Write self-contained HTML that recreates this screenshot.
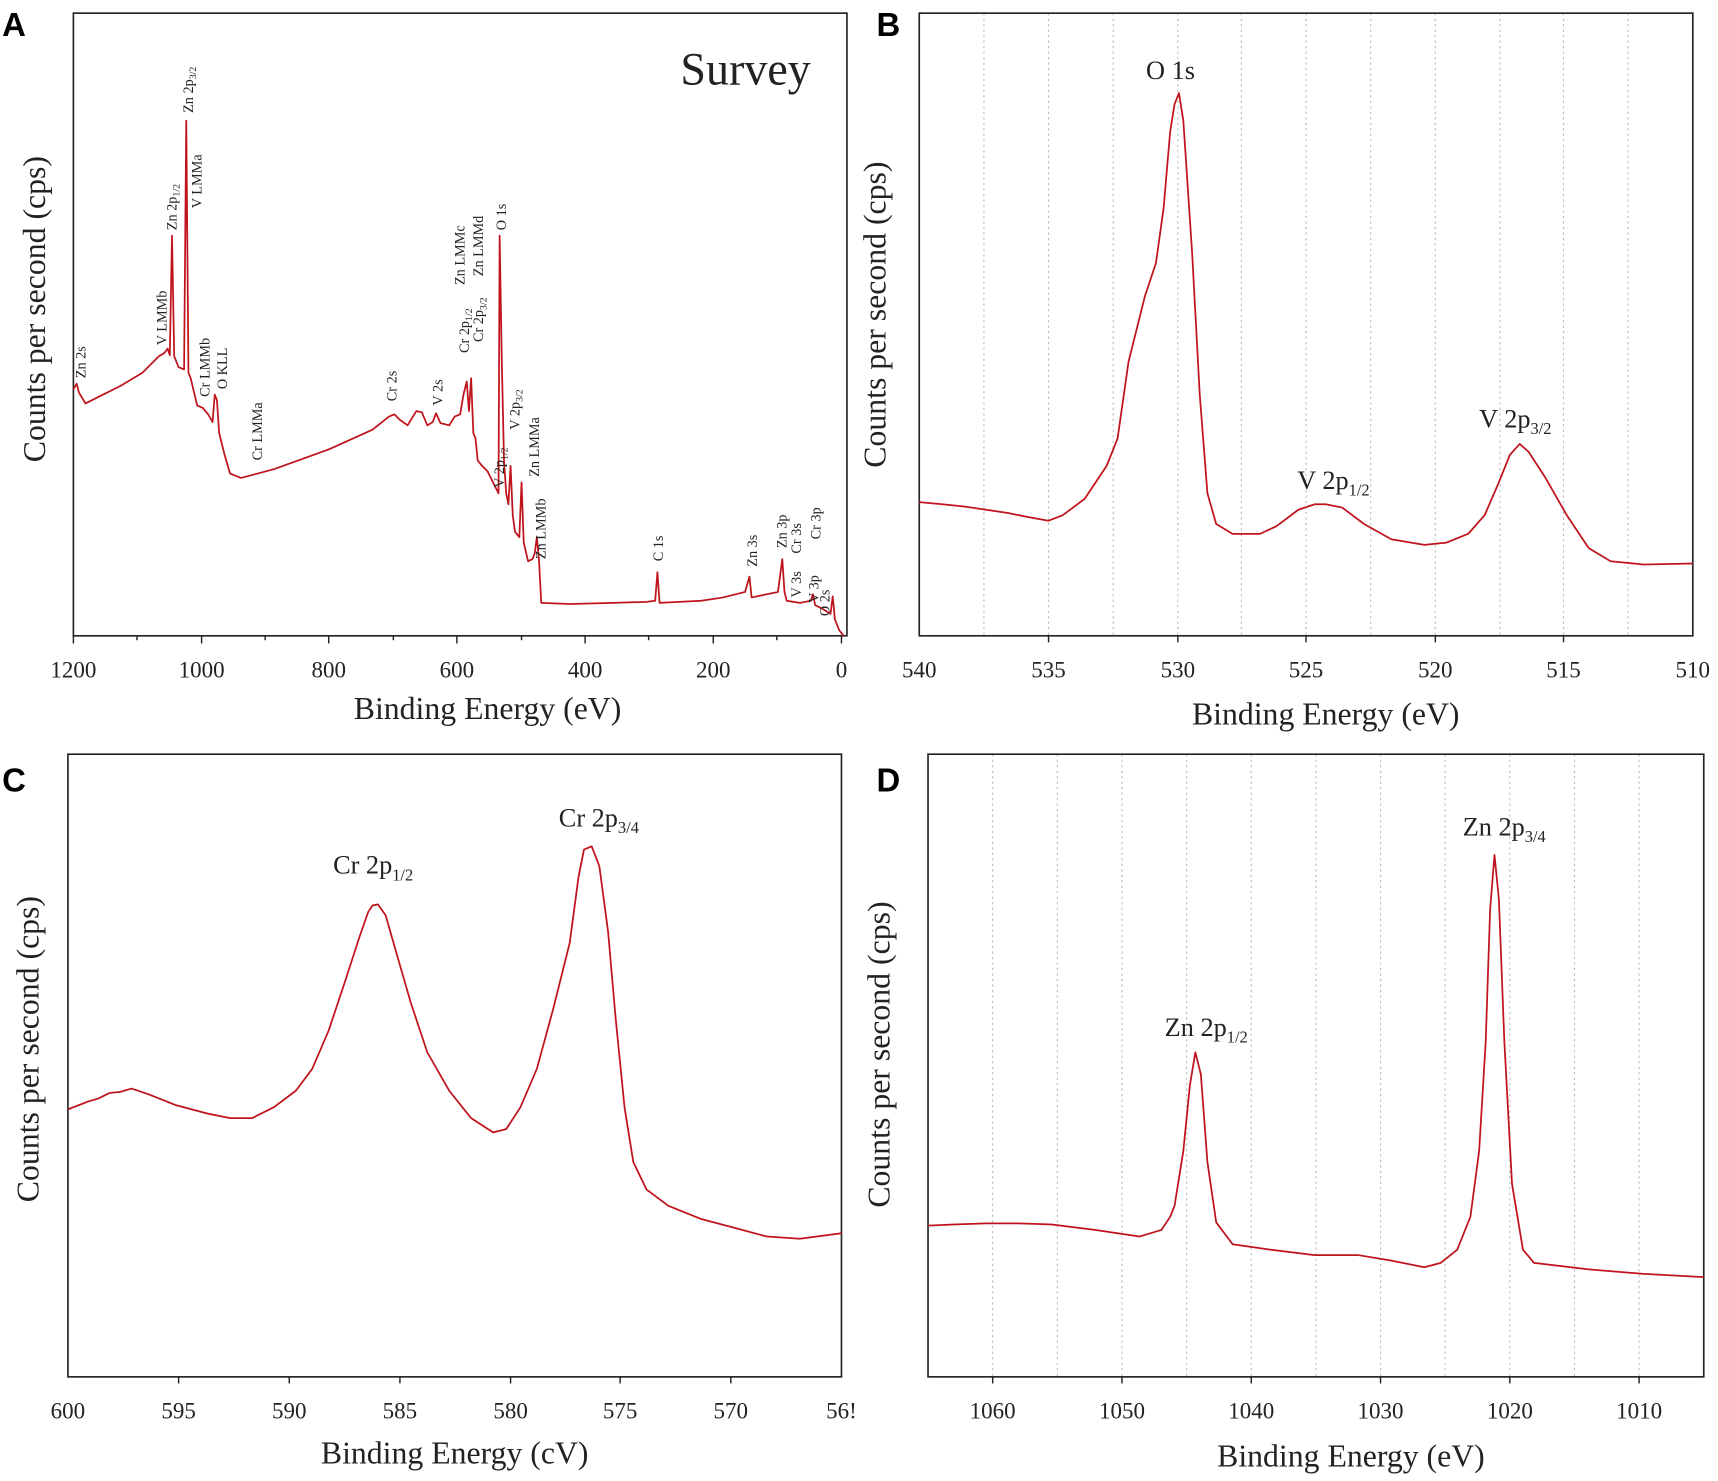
<!DOCTYPE html>
<html><head><meta charset="utf-8"><style>
html,body{margin:0;padding:0;background:#fff}
svg{display:block}
text{font-family:"Liberation Serif",serif;fill:#222}
.t{font-size:21px;text-anchor:middle}
.xl{font-size:29px;text-anchor:middle}
.lb{font-family:"Liberation Sans",sans-serif;font-weight:bold;font-size:30px;fill:#000}
.pk{font-size:13px}
.pl{font-size:24px}
.c{fill:none;stroke:#c0141c;stroke-width:1.6;stroke-linejoin:round}
.f{fill:none;stroke:#222;stroke-width:1.5}
.g{stroke:#bbb;stroke-width:1;stroke-dasharray:2,3}
.tk{stroke:#222;stroke-width:1.3}
</style></head><body>
<svg width="1718" height="1481" viewBox="0 0 1568 1351" preserveAspectRatio="none">
<!-- Panel A -->
<text class="lb" x="2" y="33">A</text>
<rect class="f" x="67" y="12" width="706" height="568"/>
<g class="tk">
<line x1="67" y1="580" x2="67" y2="587"/><line x1="184" y1="580" x2="184" y2="587"/><line x1="300" y1="580" x2="300" y2="587"/><line x1="417" y1="580" x2="417" y2="587"/><line x1="534" y1="580" x2="534" y2="587"/><line x1="651" y1="580" x2="651" y2="587"/><line x1="768" y1="580" x2="768" y2="587"/>
<line x1="125" y1="580" x2="125" y2="584"/><line x1="242" y1="580" x2="242" y2="584"/><line x1="359" y1="580" x2="359" y2="584"/><line x1="476" y1="580" x2="476" y2="584"/><line x1="592" y1="580" x2="592" y2="584"/><line x1="709" y1="580" x2="709" y2="584"/>
</g>
<text class="t" x="67" y="618">1200</text><text class="t" x="184" y="618">1000</text><text class="t" x="300" y="618">800</text><text class="t" x="417" y="618">600</text><text class="t" x="534" y="618">400</text><text class="t" x="651" y="618">200</text><text class="t" x="768" y="618">0</text>
<text class="xl" x="445" y="656">Binding Energy (eV)</text>
<text class="xl" transform="translate(41,282) rotate(-90)">Counts per second (cps)</text>
<text x="740" y="77" style="font-size:42px;text-anchor:end">Survey</text>
<polyline class="c" points="67,355 70,350 72,358 78,368 90,362 110,352 130,340 145,325 150,322 153,318 155,324 157,215 159,325 163,335 168,337 170,110 172,340 174,345 180,370 185,372 190,378 194,385 196,360 198,365 200,395 205,415 210,432 220,436 235,432 250,428 300,410 340,392 355,380 360,378 365,383 372,388 380,375 385,376 390,388 395,385 398,377 402,386 410,388 415,380 420,378 423,360 426,348 428,375 430,345 432,395 434,400 436,420 440,425 445,430 450,440 455,450 456,215 458,330 460,420 462,450 464,460 466,425 468,470 470,485 474,490 476,440 478,495 482,512 486,510 488,505 490,490 492,512 494,550 520,551 560,550 590,549 598,548 600,522 602,550 640,548 660,545 680,540 684,526 686,545 710,540 714,510 716,540 718,548 730,550 740,548 742,542 744,552 750,555 758,560 760,544 762,565 766,575 770,580"/>
<g class="pk">
<text transform="translate(78,345) rotate(-90)">Zn 2s</text>
<text transform="translate(152,315) rotate(-90)">V LMMb</text>
<text transform="translate(161,210) rotate(-90)">Zn 2p<tspan font-size="9" dy="3">1/2</tspan></text>
<text transform="translate(176,103) rotate(-90)">Zn 2p<tspan font-size="9" dy="3">3/2</tspan></text>
<text transform="translate(184,190) rotate(-90)">V LMMa</text>
<text transform="translate(191,362) rotate(-90)">Cr LMMb</text>
<text transform="translate(207,355) rotate(-90)">O KLL</text>
<text transform="translate(239,420) rotate(-90)">Cr LMMa</text>
<text transform="translate(362,366) rotate(-90)">Cr 2s</text>
<text transform="translate(404,370) rotate(-90)">V 2s</text>
<text transform="translate(428,322) rotate(-90)">Cr 2p<tspan font-size="9" dy="3">1/2</tspan></text>
<text transform="translate(424,260) rotate(-90)">Zn LMMc</text>
<text transform="translate(441,312) rotate(-90)">Cr 2p<tspan font-size="9" dy="3">3/2</tspan></text>
<text transform="translate(441,252) rotate(-90)">Zn LMMd</text>
<text transform="translate(462,210) rotate(-90)">O 1s</text>
<text transform="translate(460,445) rotate(-90)">V 2p<tspan font-size="9" dy="3">1/2</tspan></text>
<text transform="translate(474,392) rotate(-90)">V 2p<tspan font-size="9" dy="3">3/2</tspan></text>
<text transform="translate(492,435) rotate(-90)">Zn LMMa</text>
<text transform="translate(498,510) rotate(-90)">Zn LMMb</text>
<text transform="translate(605,512) rotate(-90)">C 1s</text>
<text transform="translate(691,517) rotate(-90)">Zn 3s</text>
<text transform="translate(718,500) rotate(-90)">Zn 3p</text>
<text transform="translate(731,545) rotate(-90)">V 3s</text>
<text transform="translate(731,505) rotate(-90)">Cr 3s</text>
<text transform="translate(747,550) rotate(-90)">V 3p</text>
<text transform="translate(749,492) rotate(-90)">Cr 3p</text>
<text transform="translate(757,562) rotate(-90)">O 2s</text>
</g>

<!-- Panel B -->
<text class="lb" x="800" y="33">B</text>
<g class="g">
<line x1="898" y1="12" x2="898" y2="580"/><line x1="957" y1="12" x2="957" y2="580"/><line x1="1016" y1="12" x2="1016" y2="580"/><line x1="1075" y1="12" x2="1075" y2="580"/><line x1="1133" y1="12" x2="1133" y2="580"/><line x1="1192" y1="12" x2="1192" y2="580"/><line x1="1251" y1="12" x2="1251" y2="580"/><line x1="1310" y1="12" x2="1310" y2="580"/><line x1="1369" y1="12" x2="1369" y2="580"/><line x1="1427" y1="12" x2="1427" y2="580"/><line x1="1486" y1="12" x2="1486" y2="580"/>
</g>
<rect class="f" x="839" y="12" width="706" height="568"/>
<g class="tk">
<line x1="957" y1="580" x2="957" y2="586"/><line x1="1075" y1="580" x2="1075" y2="586"/><line x1="1192" y1="580" x2="1192" y2="586"/><line x1="1310" y1="580" x2="1310" y2="586"/><line x1="1427" y1="580" x2="1427" y2="586"/>
</g>
<text class="t" x="839" y="618">540</text><text class="t" x="957" y="618">535</text><text class="t" x="1075" y="618">530</text><text class="t" x="1192" y="618">525</text><text class="t" x="1310" y="618">520</text><text class="t" x="1427" y="618">515</text><text class="t" x="1545" y="618">510</text>
<text class="xl" x="1210" y="661">Binding Energy (eV)</text>
<text class="xl" transform="translate(808,287) rotate(-90)">Counts per second (cps)</text>
<polyline class="c" points="839,458 860,460 880,462 900,465 920,468 940,472 957,475 970,470 990,455 1010,425 1020,400 1030,330 1045,270 1055,240 1062,190 1068,120 1072,95 1076,85 1080,110 1084,170 1088,230 1095,360 1102,450 1110,478 1125,487 1150,487 1165,480 1185,465 1200,460 1210,460 1225,463 1245,478 1270,492 1300,497 1320,495 1340,487 1355,470 1368,440 1378,415 1387,405 1395,412 1410,435 1430,470 1450,500 1470,512 1500,515 1545,514"/>
<text class="pl" x="1046" y="72">O 1s</text>
<text class="pl" x="1184" y="446">V 2p<tspan font-size="15" dy="6">1/2</tspan></text>
<text class="pl" x="1350" y="390">V 2p<tspan font-size="15" dy="6">3/2</tspan></text>

<!-- Panel C -->
<text class="lb" x="2" y="722">C</text>
<rect class="f" x="62" y="688" width="706" height="568"/>
<g class="tk">
<line x1="163" y1="1256" x2="163" y2="1262"/><line x1="264" y1="1256" x2="264" y2="1262"/><line x1="365" y1="1256" x2="365" y2="1262"/><line x1="466" y1="1256" x2="466" y2="1262"/><line x1="566" y1="1256" x2="566" y2="1262"/><line x1="667" y1="1256" x2="667" y2="1262"/>
</g>
<text class="t" x="62" y="1294">600</text><text class="t" x="163" y="1294">595</text><text class="t" x="264" y="1294">590</text><text class="t" x="365" y="1294">585</text><text class="t" x="466" y="1294">580</text><text class="t" x="566" y="1294">575</text><text class="t" x="667" y="1294">570</text><text class="t" x="768" y="1294">56!</text>
<text class="xl" x="415" y="1335">Binding Energy (cV)</text>
<text class="xl" transform="translate(35,957) rotate(-90)">Counts per second (cps)</text>
<polyline class="c" points="62,1012 80,1005 90,1002 100,997 110,996 120,993 135,998 150,1004 160,1008 175,1012 190,1016 210,1020 230,1020 250,1010 270,995 285,975 300,940 315,895 328,855 336,832 340,826 345,825 352,835 362,870 375,915 390,960 410,995 430,1020 450,1033 462,1030 475,1010 490,975 505,920 520,860 528,800 533,775 540,772 547,790 555,850 562,930 570,1010 578,1060 590,1085 610,1100 640,1112 670,1120 700,1128 730,1130 768,1125"/>
<text class="pl" x="304" y="797">Cr 2p<tspan font-size="15" dy="6">1/2</tspan></text>
<text class="pl" x="510" y="754">Cr 2p<tspan font-size="15" dy="6">3/4</tspan></text>

<!-- Panel D -->
<text class="lb" x="800" y="722">D</text>
<g class="g">
<line x1="906" y1="688" x2="906" y2="1256"/><line x1="965" y1="688" x2="965" y2="1256"/><line x1="1024" y1="688" x2="1024" y2="1256"/><line x1="1083" y1="688" x2="1083" y2="1256"/><line x1="1142" y1="688" x2="1142" y2="1256"/><line x1="1201" y1="688" x2="1201" y2="1256"/><line x1="1260" y1="688" x2="1260" y2="1256"/><line x1="1319" y1="688" x2="1319" y2="1256"/><line x1="1378" y1="688" x2="1378" y2="1256"/><line x1="1437" y1="688" x2="1437" y2="1256"/><line x1="1496" y1="688" x2="1496" y2="1256"/>
</g>
<rect class="f" x="847" y="688" width="708" height="568"/>
<g class="tk">
<line x1="906" y1="1256" x2="906" y2="1262"/><line x1="1024" y1="1256" x2="1024" y2="1262"/><line x1="1142" y1="1256" x2="1142" y2="1262"/><line x1="1260" y1="1256" x2="1260" y2="1262"/><line x1="1378" y1="1256" x2="1378" y2="1262"/><line x1="1496" y1="1256" x2="1496" y2="1262"/>
</g>
<text class="t" x="906" y="1294">1060</text><text class="t" x="1024" y="1294">1050</text><text class="t" x="1142" y="1294">1040</text><text class="t" x="1260" y="1294">1030</text><text class="t" x="1378" y="1294">1020</text><text class="t" x="1496" y="1294">1010</text>
<text class="xl" x="1233" y="1338">Binding Energy (eV)</text>
<text class="xl" transform="translate(812,962) rotate(-90)">Counts per second (cps)</text>
<polyline class="c" points="847,1118 870,1117 900,1116 930,1116 960,1117 1000,1122 1040,1128 1060,1122 1068,1110 1072,1100 1080,1050 1086,990 1091,960 1096,980 1102,1060 1110,1115 1125,1135 1160,1140 1200,1145 1240,1145 1270,1150 1300,1156 1315,1152 1330,1140 1342,1110 1350,1050 1356,950 1360,830 1364,780 1368,820 1373,950 1380,1080 1390,1140 1400,1152 1450,1158 1500,1162 1555,1165"/>
<text class="pl" x="1063" y="945">Zn 2p<tspan font-size="15" dy="6">1/2</tspan></text>
<text class="pl" x="1335" y="762">Zn 2p<tspan font-size="15" dy="6">3/4</tspan></text>
</svg>
</body></html>
